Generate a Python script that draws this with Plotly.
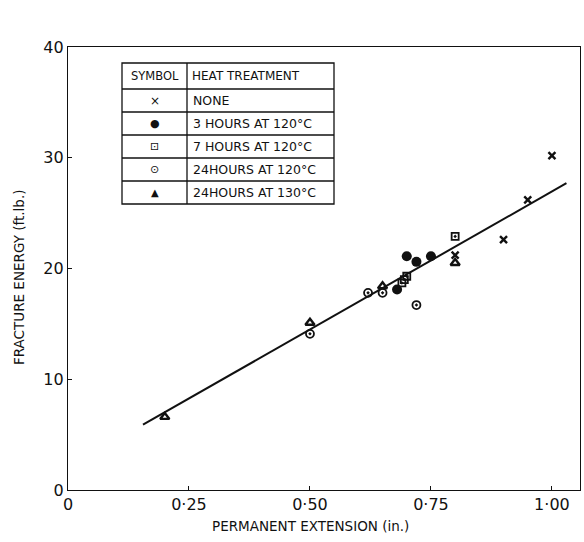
import plotly.graph_objects as go

# ---- data ----
none_x = [0.80, 0.90, 0.95, 1.00]
none_y = [21.2, 22.6, 26.2, 30.2]

h3_x = [0.68, 0.70, 0.72, 0.75]
h3_y = [18.1, 21.1, 20.6, 21.1]

h7_x = [0.69, 0.695, 0.70, 0.80]
h7_y = [18.7, 19.0, 19.3, 22.9]

h24_120_x = [0.50, 0.62, 0.65, 0.72]
h24_120_y = [14.1, 17.8, 17.8, 16.7]

h24_130_x = [0.20, 0.50, 0.65, 0.80]
h24_130_y = [6.6, 15.1, 18.4, 20.5]

fit_x = [0.155, 1.03]
fit_y = [5.9, 27.7]

x_ticks = [0, 0.25, 0.5, 0.75, 1.0]
x_tick_text = ["0", "0·25", "0·50", "0·75", "1·00"]
y_ticks = [0, 10, 20, 30, 40]

legend_symbols = ["×", "●", "⊡", "⊙", "▲"]
legend_labels = ["NONE", "3 HOURS AT 120°C", "7 HOURS AT 120°C",
                 "24HOURS AT 120°C", "24HOURS AT 130°C"]

# ---- figure geometry ----
W, H = 584, 542
L, R, T, B = 68, 4, 47, 52
PW, PH = W - L - R, H - T - B


def px(xp):
    return (xp - L) / PW


def py(yp):
    return (H - B - yp) / PH


FONT = "DejaVu Sans, sans-serif"
BLACK = "#111111"

fig = go.Figure()

fig.add_trace(go.Scatter(x=fit_x, y=fit_y, mode="lines",
                         line=dict(color=BLACK, width=2), showlegend=False))

fig.add_trace(go.Scatter(x=none_x, y=none_y, mode="markers", showlegend=False,
                         marker=dict(symbol="x-thin", size=7,
                                     line=dict(color=BLACK, width=2.4))))
fig.add_trace(go.Scatter(x=h3_x, y=h3_y, mode="markers", showlegend=False,
                         marker=dict(symbol="circle", size=10, color=BLACK)))
fig.add_trace(go.Scatter(x=h7_x, y=h7_y, mode="markers", showlegend=False,
                         marker=dict(symbol="square-open-dot", size=7, color=BLACK,
                                     line=dict(color=BLACK, width=1.8))))
fig.add_trace(go.Scatter(x=h24_120_x, y=h24_120_y, mode="markers", showlegend=False,
                         marker=dict(symbol="circle-open-dot", size=8, color=BLACK,
                                     line=dict(color=BLACK, width=1.8))))
fig.add_trace(go.Scatter(x=h24_130_x, y=h24_130_y, mode="markers", showlegend=False,
                         marker=dict(symbol="triangle-up-open", size=8, color=BLACK,
                                     line=dict(color=BLACK, width=2.4))))

# ---- legend table ----
tx0, tx1, tdiv = 122, 334, 187
row_edges = [63, 89, 112, 135, 158, 181, 204]
LW = 1.3
shapes = [dict(type="rect", xref="paper", yref="paper",
               x0=px(tx0), x1=px(tx1), y0=py(row_edges[-1]), y1=py(row_edges[0]),
               line=dict(color=BLACK, width=LW))]
shapes.append(dict(type="line", xref="paper", yref="paper",
                   x0=px(tdiv), x1=px(tdiv), y0=py(row_edges[-1]), y1=py(row_edges[0]),
                   line=dict(color=BLACK, width=LW)))
for e in row_edges[1:-1]:
    shapes.append(dict(type="line", xref="paper", yref="paper",
                       x0=px(tx0), x1=px(tx1), y0=py(e), y1=py(e),
                       line=dict(color=BLACK, width=LW)))

annotations = []
hdr_y = py((row_edges[0] + row_edges[1]) / 2)
annotations.append(dict(x=px((tx0 + tdiv) / 2), y=hdr_y, xref="paper", yref="paper",
                        text="SYMBOL", showarrow=False, xanchor="center", yanchor="middle",
                        font=dict(family=FONT, size=11.5, color=BLACK)))
annotations.append(dict(x=px(tdiv + 3), y=hdr_y, xref="paper", yref="paper",
                        text="HEAT TREATMENT", showarrow=False,
                        xanchor="left", yanchor="middle",
                        font=dict(family=FONT, size=12, color=BLACK)))
sym_sizes = [12, 11, 11, 11, 10]
for i, (s, lab) in enumerate(zip(legend_symbols, legend_labels)):
    yc = py((row_edges[i + 1] + row_edges[i + 2]) / 2)
    annotations.append(dict(x=px((tx0 + tdiv) / 2), y=yc, xref="paper", yref="paper",
                            text=s, showarrow=False, xanchor="center", yanchor="middle",
                            font=dict(family=FONT, size=sym_sizes[i], color=BLACK)))
    annotations.append(dict(x=px(tdiv + 4), y=yc, xref="paper", yref="paper",
                            text=lab, showarrow=False, xanchor="left", yanchor="middle",
                            font=dict(family=FONT, size=12.5, color=BLACK)))

# axis titles
annotations.append(dict(x=px(310), y=py(526), xref="paper", yref="paper",
                        text="PERMANENT EXTENSION (in.)", showarrow=False,
                        xanchor="center", yanchor="middle",
                        font=dict(family=FONT, size=13.5, color=BLACK)))
annotations.append(dict(x=px(19), y=py(278), xref="paper", yref="paper",
                        text="FRACTURE ENERGY (ft.lb.)", showarrow=False,
                        textangle=-90, xanchor="center", yanchor="middle",
                        font=dict(family=FONT, size=13.5, color=BLACK)))

fig.update_layout(
    width=W, height=H,
    margin=dict(l=L, r=R, t=T, b=B),
    paper_bgcolor="white", plot_bgcolor="white",
    shapes=shapes, annotations=annotations,
    font=dict(family=FONT, color=BLACK),
)
fig.update_xaxes(range=[0, 1.058], tickvals=x_ticks, ticktext=x_tick_text,
                 ticks="inside", ticklen=4, tickcolor=BLACK,
                 showline=True, linecolor=BLACK, linewidth=1.3, mirror=True,
                 showgrid=False, zeroline=False,
                 tickfont=dict(family=FONT, size=16, color=BLACK))
fig.update_yaxes(range=[0, 40], tickvals=y_ticks,
                 ticks="inside", ticklen=4, tickcolor=BLACK,
                 showline=True, linecolor=BLACK, linewidth=1.3, mirror=True,
                 showgrid=False, zeroline=False,
                 tickfont=dict(family=FONT, size=16, color=BLACK))

fig.write_html("out.html")
